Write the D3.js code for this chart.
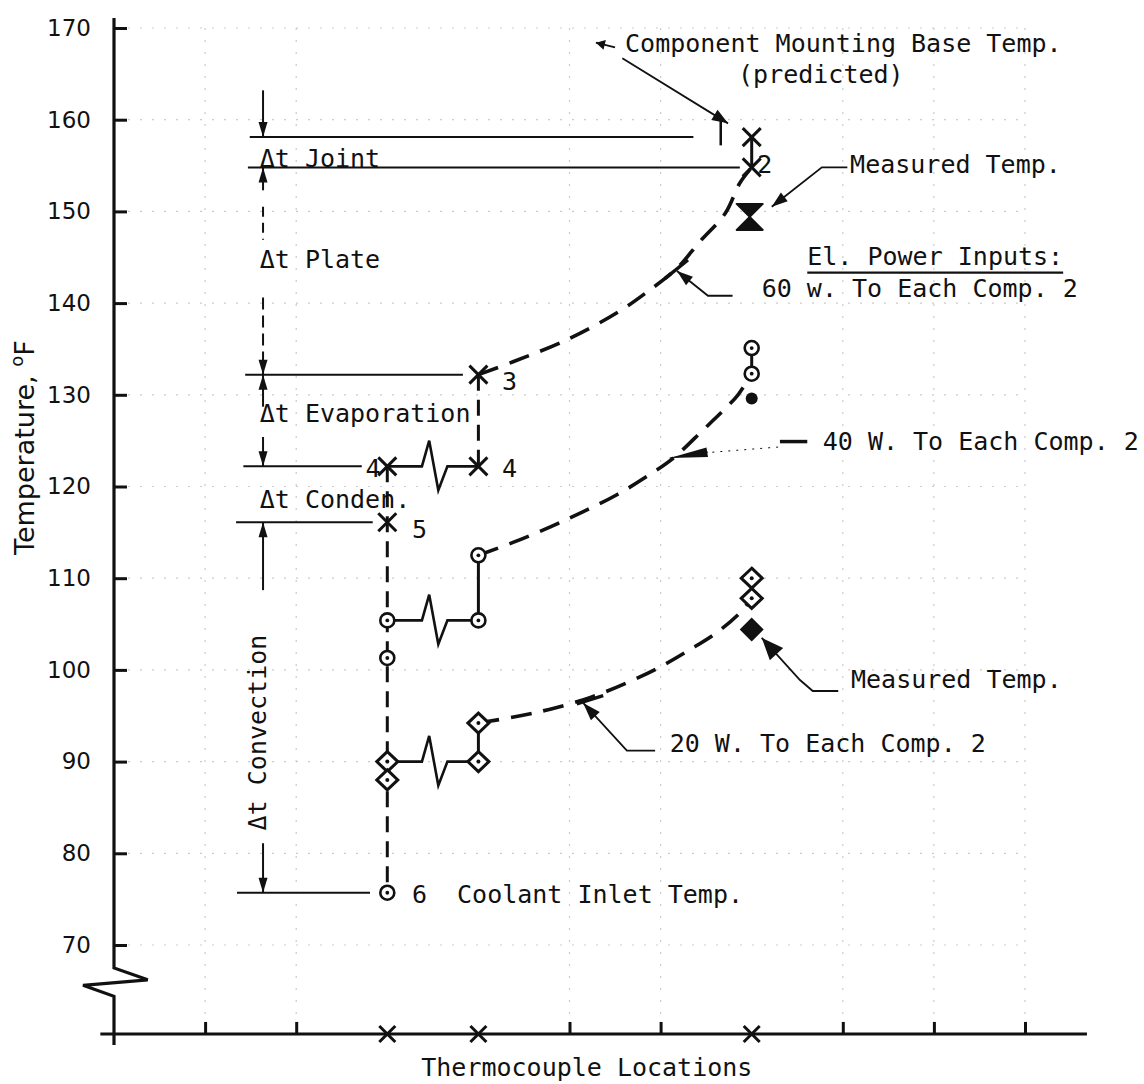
<!DOCTYPE html>
<html><head><meta charset="utf-8">
<script src="https://cdn.jsdelivr.net/npm/d3@7"></script>
<style>
body{margin:0;background:#fff;}
svg{display:block;}
.mono{font-family:"DejaVu Sans Mono",monospace;font-size:25px;fill:#111;white-space:pre;}
</style></head><body>
<svg id="chart" width="1144" height="1084"></svg>
<script>
// ---------- DATA ----------
const yTicks = [70, 80, 90, 100, 110, 120, 130, 140, 150, 160, 170];
const xTicks = [1, 2, 3, 4, 5, 6, 7, 8, 9, 10];
const thermocoupleLocs = [3, 4, 7];
const gridLocs = [1, 2, 5, 6, 8, 9, 10];
const axisBaseTemp = 60.3;

// 60 W series (x markers)
const pts60 = [{loc:7,t:158.1},{loc:7,t:154.8},{loc:4,t:132.2},{loc:4,t:122.2},{loc:3,t:122.2},{loc:3,t:116.1}];
// 40 W series (circles)
const pts40 = [{loc:7,t:135.1},{loc:7,t:132.3},{loc:4,t:112.5},{loc:4,t:105.4},{loc:3,t:105.4},{loc:3,t:101.3}];
// 20 W series (diamonds)
const pts20 = [{loc:7,t:110.0},{loc:7,t:107.8},{loc:4,t:94.2},{loc:4,t:90.0},{loc:3,t:90.0},{loc:3,t:88.0}];
const coolant = {loc:3, t:75.7};
const measured60 = {loc:7, t:149.4};
const measured40 = {loc:7, t:129.6};
const measured20 = {loc:7, t:104.4};

// dashed curves
const curve60 = [[4.0,132.2],[4.38,133.6],[4.97,136.0],[5.53,139.0],[5.85,141.2],[6.18,143.8],[6.43,146.7],[6.71,149.8],[6.87,153.1],[7.0,154.8]];
const curve40 = [[4.0,112.5],[4.38,113.9],[4.79,115.6],[5.14,117.2],[5.52,119.1],[5.88,121.3],[6.14,123.1],[6.47,126.2],[6.69,128.3],[6.85,130.0],[7.0,132.3]];
const curve20 = [[4.0,94.2],[4.46,95.0],[4.82,95.8],[5.23,97.0],[5.63,98.6],[5.99,100.3],[6.32,102.2],[6.62,104.1],[6.87,106.2],[7.0,107.8]];

// vertical connectors [loc, fromT, toT, dashed]
const connectors = [[7,158.1,154.8,false],[7,135.1,132.3,false],[7,110.0,107.8,false],
                    [4,132.2,122.2,true],[4,112.5,105.4,false],[4,94.2,90.0,false],
                    [3,122.2,75.7,true]];
// zig-zag (resistance) links between loc 3 and 4
const zigzagTemps = [122.2, 105.4, 90.0];
const zigShape = [[3,0],[3.38,0],[3.46,2.8],[3.56,-2.6],[3.66,0],[4,0]];

const pointLabels = [{text:"2",loc:7.06,t:154.2},{text:"3",loc:4.26,t:130.5},{text:"4",loc:4.26,t:121.0},
                     {text:"4",loc:2.76,t:121.0},{text:"5",loc:3.27,t:114.4}];

// dimension lines on the left
const dimLoc = 1.636;
const refLines = [{t:158.1,from:1.49,to:6.36},{t:154.8,from:1.47,to:6.87},{t:132.2,from:1.44,to:3.83},
                  {t:122.2,from:1.42,to:2.72},{t:116.1,from:1.34,to:2.84},{t:75.7,from:1.35,to:2.81}];
const dimArrows = [{from:163.2,to:158.1},{from:152.3,to:154.8},{from:140.6,to:132.2,dashed:true},
                   {from:128.7,to:132.2},{from:125.4,to:122.2},{from:108.7,to:116.1},{from:81.1,to:75.7}];
const dimDashSeg = [150.5, 146.9];
const dimLabels = [{text:"Δt Joint",t:154.8},{text:"Δt Plate",t:143.8},{text:"Δt Evaporation",t:127.0},{text:"Δt Conden.",t:117.7}];
const dimRotLabel = {text:"Δt Convection", loc:1.67, t:82.5};

const notes = [
  {text:"Component Mounting Base Temp.", loc:5.61, t:167.4},
  {text:"(predicted)", loc:6.85, t:164.0},
  {text:"Measured Temp.", loc:8.08, t:154.2},
  {text:"El. Power Inputs:", loc:7.61, t:144.2, underline:true},
  {text:"60 w. To Each Comp. 2", loc:7.11, t:140.7},
  {text:"40 W. To Each Comp. 2", loc:7.78, t:124.0},
  {text:"Measured Temp.", loc:8.09, t:98.0},
  {text:"20 W. To Each Comp. 2", loc:6.10, t:91.0},
  {text:"6  Coolant Inlet Temp.", loc:3.27, t:74.6}
];
// leader lines: points in (loc,temp); head = [length, halfwidth] or null
const leaders = [
  {pts:[[5.50,167.9],[5.29,168.4]], head:[9,5]},
  {pts:[[5.58,166.7],[6.74,159.6]], head:[16,6]},
  {pts:[[6.66,160.0],[6.66,157.2]], head:null, w:2.5},
  {pts:[[8.05,154.8],[7.77,154.8],[7.22,150.5]], head:[16,5.5]},
  {pts:[[6.79,140.8],[6.52,140.8],[6.18,143.5]], head:[16,5.5]},
  {pts:[[6.05,142.7],[6.30,144.7]], head:null, w:3.5},
  {pts:[[7.61,124.9],[7.31,124.9]], head:null, w:3.5},
  {pts:[[7.29,124.3],[6.52,123.7]], head:null, w:1, dash:"2 6"},
  {pts:[[6.52,123.75],[6.10,123.1]], head:[38,4.8], w:1},
  {pts:[[7.95,97.7],[7.67,97.7],[7.53,98.9],[7.11,103.5]], head:[22,9]},
  {pts:[[5.94,91.2],[5.63,91.2],[5.15,96.4]], head:[18,6]},
  {pts:[[5.08,96.3],[5.37,97.2]], head:null, w:3.5}
];
const yBreak = [[0,171.1],[0,67.5],[0.37,66.2],[-0.34,65.6],[0,64.4],[0,59.1]];
const xAxisExtent = [-0.15, 10.68];

// ---------- DRAW ----------
const ink = "#111";
const svg = d3.select("#chart");
const x = d3.scaleLinear().domain([0,10]).range([114,1025]);
const y = d3.scaleLinear().domain([70,170]).range([945,28]);
const P = (l,t) => [x(l), y(t)];
const xAxisY = y(axisBaseTemp);

function headPath(p0, p1, len, hw){
  const dx=p1[0]-p0[0], dy=p1[1]-p0[1], d=Math.hypot(dx,dy), ux=dx/d, uy=dy/d;
  const bx=p1[0]-ux*len, by=p1[1]-uy*len, nx=-uy, ny=ux;
  return `M${p1[0]},${p1[1]}L${bx+nx*hw},${by+ny*hw}L${bx-nx*hw},${by-ny*hw}Z`;
}

// grid (faint dotted)
const grid = svg.append("g").attr("stroke","#999").attr("stroke-width",1.2).attr("stroke-dasharray","2 10").attr("opacity",0.5);
grid.selectAll("line.h").data(yTicks).join("line")
  .attr("x1",x(0)+14).attr("x2",x(10)).attr("y1",d=>y(d)).attr("y2",d=>y(d));
grid.selectAll("line.v").data(gridLocs).join("line")
  .attr("x1",d=>x(d)).attr("x2",d=>x(d)).attr("y1",y(170)).attr("y2",xAxisY-12);

// y axis
const gY = svg.append("g").attr("transform",`translate(${x(0)},0)`)
  .call(d3.axisLeft(y).tickValues(yTicks).tickSize(-13).tickPadding(23).tickFormat(d3.format("d")));
gY.select(".domain").remove();
gY.selectAll(".tick line").attr("stroke",ink).attr("stroke-width",3);
gY.selectAll(".tick text").attr("font-family","DejaVu Sans").attr("font-size",23).attr("fill",ink);
svg.append("path").attr("d", d3.line().x(d=>x(d[0])).y(d=>y(d[1]))(yBreak))
  .attr("fill","none").attr("stroke",ink).attr("stroke-width",3.2).attr("stroke-linejoin","miter");

// x axis
const gX = svg.append("g").attr("transform",`translate(0,${xAxisY})`)
  .call(d3.axisBottom(x).tickValues(xTicks.filter(v=>!thermocoupleLocs.includes(v))).tickSize(-12).tickFormat(""));
gX.select(".domain").remove();
gX.selectAll(".tick line").attr("stroke",ink).attr("stroke-width",3);
svg.append("line").attr("x1",x(xAxisExtent[0])).attr("x2",x(xAxisExtent[1]))
  .attr("y1",xAxisY).attr("y2",xAxisY).attr("stroke",ink).attr("stroke-width",3);

function xMark(g, cx, cy, h, w){
  g.append("path").attr("d",`M${cx-h},${cy-h}L${cx+h},${cy+h}M${cx-h},${cy+h}L${cx+h},${cy-h}`)
    .attr("stroke",ink).attr("stroke-width",w).attr("fill","none");
}
const axMarks = svg.append("g");
thermocoupleLocs.forEach(l=>xMark(axMarks, x(l), xAxisY, 8, 3));

// axis titles
svg.append("text").attr("class","mono").attr("x",x(5.19)).attr("y",1076).attr("text-anchor","middle")
  .text("Thermocouple Locations");
const yt = svg.append("text").attr("transform",`translate(34,555) rotate(-90)`)
  .attr("font-family","DejaVu Sans").attr("font-size",27).attr("fill",ink);
yt.append("tspan").text("Temperature, ");
yt.append("tspan").attr("font-size",18).attr("dy",-11).text("o");
yt.append("tspan").attr("dy",11).text("F");

// reference lines and dimension arrows
const dim = svg.append("g");
dim.selectAll("line.ref").data(refLines).join("line")
  .attr("x1",d=>x(d.from)).attr("x2",d=>x(d.to)).attr("y1",d=>y(d.t)).attr("y2",d=>y(d.t))
  .attr("stroke",ink).attr("stroke-width",2);
dimArrows.forEach(a=>{
  const p0=P(dimLoc,a.from), p1=P(dimLoc,a.to);
  dim.append("line").attr("x1",p0[0]).attr("y1",p0[1]).attr("x2",p1[0]).attr("y2",p1[1])
    .attr("stroke",ink).attr("stroke-width",2).attr("stroke-dasharray",a.dashed?"12 6":null);
  dim.append("path").attr("d",headPath(p0,p1,15,4.5)).attr("fill",ink);
});
dim.append("line").attr("x1",x(dimLoc)).attr("x2",x(dimLoc)).attr("y1",y(dimDashSeg[0])).attr("y2",y(dimDashSeg[1]))
  .attr("stroke",ink).attr("stroke-width",2).attr("stroke-dasharray","10 6");
dim.selectAll("text.dl").data(dimLabels).join("text").attr("class","mono")
  .attr("x",x(1.60)).attr("y",d=>y(d.t)).text(d=>d.text);
dim.append("text").attr("class","mono")
  .attr("transform",`translate(${x(dimRotLabel.loc)},${y(dimRotLabel.t)}) rotate(-90)`).text(dimRotLabel.text);

// dashed curves
const line = d3.line().x(d=>x(d[0])).y(d=>y(d[1])).curve(d3.curveCatmullRom.alpha(0.5));
[curve60, curve40, curve20].forEach(c=>{
  svg.append("path").attr("d",line(c)).attr("fill","none").attr("stroke",ink)
    .attr("stroke-width",3.6).attr("stroke-dasharray","21 12");
});

// connectors
connectors.forEach(([l,a,b,dash])=>{
  svg.append("line").attr("x1",x(l)).attr("x2",x(l)).attr("y1",y(a)).attr("y2",y(b))
    .attr("stroke",ink).attr("stroke-width",3).attr("stroke-dasharray",dash?"16 9":null);
});
zigzagTemps.forEach(T=>{
  svg.append("path").attr("d", d3.line().x(d=>x(d[0])).y(d=>y(T+d[1]))(zigShape))
    .attr("fill","none").attr("stroke",ink).attr("stroke-width",2.6).attr("stroke-linejoin","miter");
});

// markers
const mk = svg.append("g");
pts60.forEach(d=>xMark(mk, x(d.loc), y(d.t), 9, 3));
function circ(d){
  mk.append("circle").attr("cx",x(d.loc)).attr("cy",y(d.t)).attr("r",7).attr("fill","#fff").attr("stroke",ink).attr("stroke-width",2.6);
  mk.append("circle").attr("cx",x(d.loc)).attr("cy",y(d.t)).attr("r",1.9).attr("fill",ink);
}
pts40.forEach(circ); circ(coolant);
pts20.forEach(d=>{
  const cx=x(d.loc), cy=y(d.t);
  mk.append("path").attr("d",`M${cx},${cy-10}L${cx+10.5},${cy}L${cx},${cy+10}L${cx-10.5},${cy}Z`)
    .attr("fill","#fff").attr("stroke",ink).attr("stroke-width",3);
  mk.append("circle").attr("cx",cx).attr("cy",cy).attr("r",2).attr("fill",ink);
});
{ const cx=x(measured60.loc)-2, cy=y(measured60.t);
  mk.append("path").attr("d",`M${cx-13},${cy-13}L${cx+13},${cy-13}L${cx},${cy}L${cx+13},${cy+13}L${cx-13},${cy+13}L${cx},${cy}Z`)
    .attr("fill",ink).attr("stroke",ink).attr("stroke-width",2).attr("stroke-linejoin","round"); }
mk.append("circle").attr("cx",x(measured40.loc)).attr("cy",y(measured40.t)).attr("r",6).attr("fill",ink);
{ const cx=x(measured20.loc), cy=y(measured20.t);
  mk.append("path").attr("d",`M${cx},${cy-12}L${cx+12},${cy}L${cx},${cy+12}L${cx-12},${cy}Z`).attr("fill",ink); }

// point labels
svg.selectAll("text.pl").data(pointLabels).join("text").attr("class","mono")
  .attr("x",d=>x(d.loc)).attr("y",d=>y(d.t)).text(d=>d.text);

// notes
const nt = svg.append("g");
notes.forEach(n=>{
  const t = nt.append("text").attr("class","mono").attr("x",x(n.loc)).attr("y",y(n.t)).text(n.text);
  if(n.underline){
    const len = t.node().getComputedTextLength();
    nt.append("line").attr("x1",x(n.loc)).attr("x2",x(n.loc)+len).attr("y1",y(n.t)+8).attr("y2",y(n.t)+8)
      .attr("stroke",ink).attr("stroke-width",2.2);
  }
});
leaders.forEach(L=>{
  const px = L.pts.map(p=>P(p[0],p[1]));
  nt.append("path").attr("d",d3.line()(px)).attr("fill","none").attr("stroke",ink)
    .attr("stroke-width",L.w||1.8).attr("stroke-dasharray",L.dash||null);
  if(L.head){
    nt.append("path").attr("d",headPath(px[px.length-2],px[px.length-1],L.head[0],L.head[1])).attr("fill",ink);
  }
});
</script>
</body></html>
